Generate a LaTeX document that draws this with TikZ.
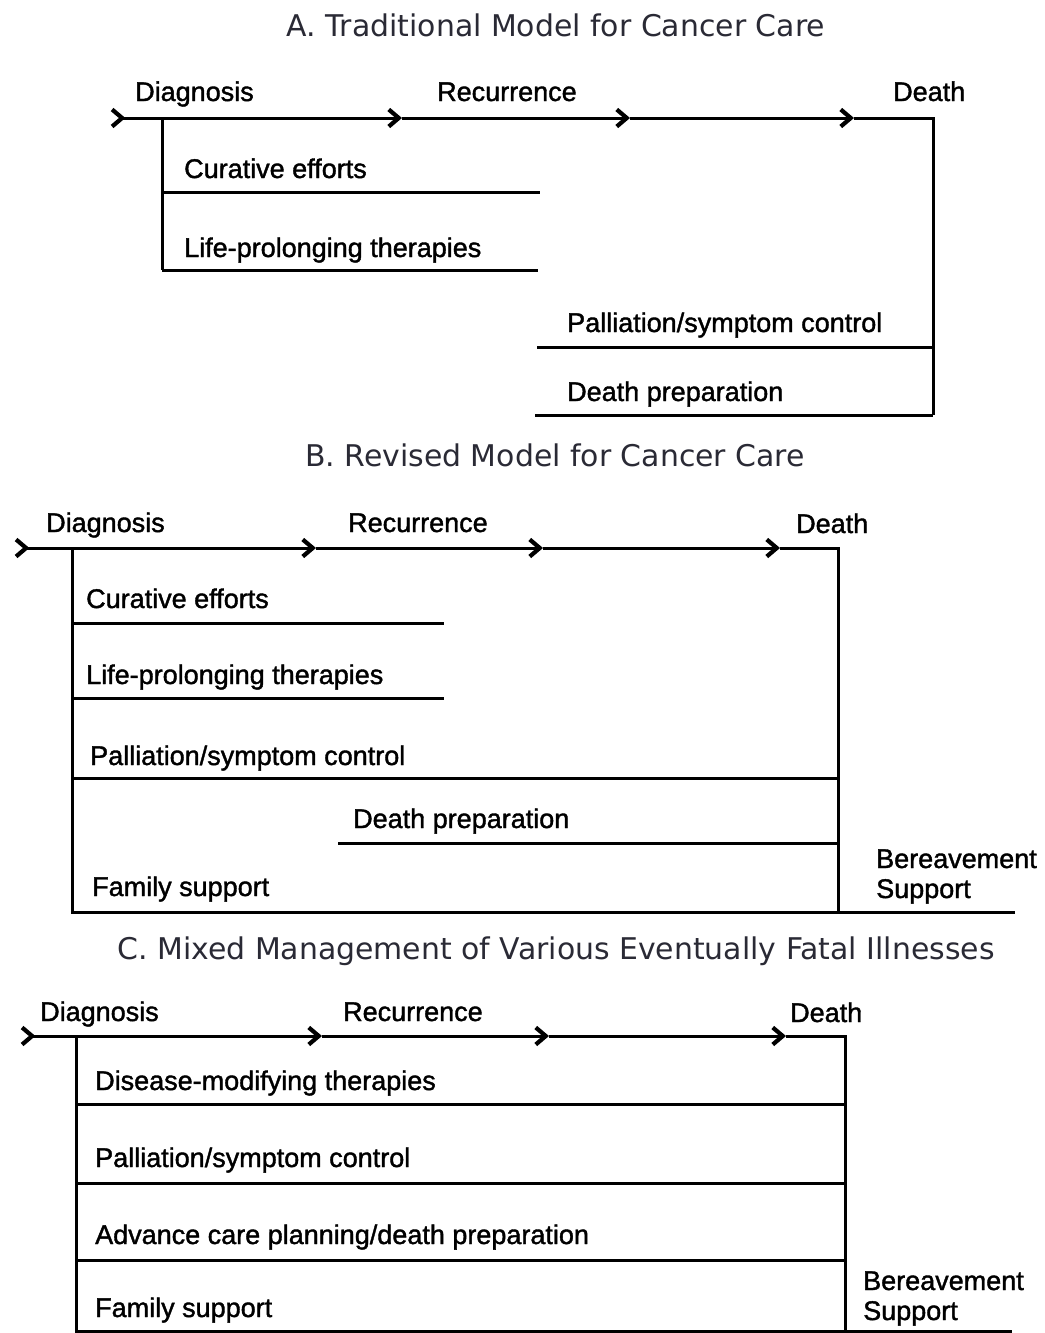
\documentclass[tikz,border=0pt]{standalone}
\usepackage{fontspec}
\setmainfont{Liberation Sans}[BoldFont=Liberation Sans, BoldFeatures={FakeBold=1.4}]
\newfontfamily\titlefont{DejaVu Sans}
\usetikzlibrary{arrows.meta}
\definecolor{titlegray}{HTML}{2A2A35}
\begin{document}
\begin{tikzpicture}[x=1pt,y=-1pt,
  tl/.style={line width=3pt, line cap=butt, line join=miter},
  bar/.style={line width=3pt},
  lbl/.style={anchor=base west, inner sep=0pt, font=\bfseries\fontsize{27}{30}\selectfont},
  ttl/.style={anchor=base, inner sep=0pt, text=titlegray, font=\titlefont\fontsize{29.9}{32}\selectfont},
  tip/.style={-{Straight Barb[length=10pt,width=17pt,line width=4.2pt]}},
  tail/.style={{Straight Barb[reversed,length=10pt,width=17pt,line width=4.2pt]}-{Straight Barb[length=10pt,width=17pt,line width=4.2pt]}}
]
\useasboundingbox (0,0) rectangle (1044,1333);
\fill[white] (0,0) rectangle (1044,1333);

% ---------------- A ----------------
\node[ttl] (tA) at (556,36) {A. Traditional Model for Cancer Care};
\coordinate (A0) at (110,118);
\coordinate (A1) at (402,118);
\coordinate (A2) at (630,118);
\coordinate (A3) at (854,118);
\coordinate (AR) at (933,118);
\coordinate (AL) at (162,118);
\coordinate (ALb) at (162,270);
\coordinate (ARb) at (933,415);
\draw[tl,tail] (A0) -- (A1);
\draw[tl,tip] (A1) -- (A2);
\draw[tl,tip] (A2) -- (A3);
\draw[tl] (A3) -- (AR) -- (ARb);
\draw[tl] (AL) -- (ALb);
\node[lbl] (Ad) at (135,101) {Diagnosis};
\node[lbl] (Ar) at (437,101) {Recurrence};
\node[lbl] (Ae) at (893,101) {Death};
\node[lbl] (Ac) at (184,178) {Curative efforts};
\coordinate (Ac1) at (162,192); \coordinate (Ac2) at (540,192);
\draw[bar] (Ac1) -- (Ac2);
\node[lbl] (Al) at (184,257) {Life-prolonging therapies};
\coordinate (Al2) at (538,270);
\draw[bar] (ALb) -- (Al2);
\node[lbl] (Ap) at (567,332) {Palliation/symptom control};
\coordinate (Ap1) at (537,347); \coordinate (Ap2) at (933,347);
\draw[bar] (Ap1) -- (Ap2);
\node[lbl] (Adp) at (567,401) {Death preparation};
\coordinate (Adp1) at (535,415);
\draw[tl] (Adp1) -- (ARb);

% ---------------- B ----------------
\node[ttl] (tB) at (555,466) {B. Revised Model for Cancer Care};
\coordinate (B0) at (14,548);
\coordinate (B1) at (316,548);
\coordinate (B2) at (543,548);
\coordinate (B3) at (780,548);
\coordinate (BR) at (838,548);
\coordinate (BL) at (72,548);
\coordinate (BLb) at (72,912);
\coordinate (BRb) at (838,912);
\coordinate (BE) at (1015,912);
\draw[tl,tail] (B0) -- (B1);
\draw[tl,tip] (B1) -- (B2);
\draw[tl,tip] (B2) -- (B3);
\draw[tl] (B3) -- (BR) -- (BRb);
\draw[tl] (BL) -- (BLb) -- (BE);
\node[lbl] (Bd) at (46,532) {Diagnosis};
\node[lbl] (Br) at (348,532) {Recurrence};
\node[lbl] (Be) at (796,533) {Death};
\node[lbl] (Bc) at (86,608) {Curative efforts};
\coordinate (Bc1) at (72,623); \coordinate (Bc2) at (444,623);
\draw[bar] (Bc1) -- (Bc2);
\node[lbl] (Bl) at (86,684) {Life-prolonging therapies};
\coordinate (Bl1) at (72,698); \coordinate (Bl2) at (444,698);
\draw[bar] (Bl1) -- (Bl2);
\node[lbl] (Bp) at (90,765) {Palliation/symptom control};
\coordinate (Bp1) at (72,778); \coordinate (Bp2) at (838,778);
\draw[bar] (Bp1) -- (Bp2);
\node[lbl] (Bdp) at (353,828) {Death preparation};
\coordinate (Bdp1) at (338,843); \coordinate (Bdp2) at (838,843);
\draw[bar] (Bdp1) -- (Bdp2);
\node[lbl] (Bf) at (92,896) {Family support};
\node[lbl] (Bb1) at (876,868) {Bereavement};
\node[lbl] (Bb2) at (876,898) {Support};

% ---------------- C ----------------
\node[ttl] (tC) at (556,959) {C. Mixed Management of Various Eventually Fatal Illnesses};
\coordinate (C0) at (20,1036);
\coordinate (C1) at (322,1036);
\coordinate (C2) at (549,1036);
\coordinate (C3) at (786,1036);
\coordinate (CR) at (845,1036);
\coordinate (CL) at (76,1036);
\coordinate (CLb) at (76,1331);
\coordinate (CRb) at (845,1331);
\coordinate (CE) at (1012,1331);
\draw[tl,tail] (C0) -- (C1);
\draw[tl,tip] (C1) -- (C2);
\draw[tl,tip] (C2) -- (C3);
\draw[tl] (C3) -- (CR) -- (CRb);
\draw[tl] (CL) -- (CLb) -- (CE);
\node[lbl] (Cd) at (40,1021) {Diagnosis};
\node[lbl] (Cr) at (343,1021) {Recurrence};
\node[lbl] (Ce) at (790,1022) {Death};
\node[lbl] (Cm) at (95,1090) {Disease-modifying therapies};
\coordinate (Cm1) at (76,1104); \coordinate (Cm2) at (845,1104);
\draw[bar] (Cm1) -- (Cm2);
\node[lbl] (Cp) at (95,1167) {Palliation/symptom control};
\coordinate (Cp1) at (76,1183); \coordinate (Cp2) at (845,1183);
\draw[bar] (Cp1) -- (Cp2);
\node[lbl] (Ca) at (95,1244) {Advance care planning/death preparation};
\coordinate (Ca1) at (76,1260); \coordinate (Ca2) at (845,1260);
\draw[bar] (Ca1) -- (Ca2);
\node[lbl] (Cf) at (95,1317) {Family support};
\node[lbl] (Cb1) at (863,1290) {Bereavement};
\node[lbl] (Cb2) at (863,1320) {Support};
\end{tikzpicture}
\end{document}
